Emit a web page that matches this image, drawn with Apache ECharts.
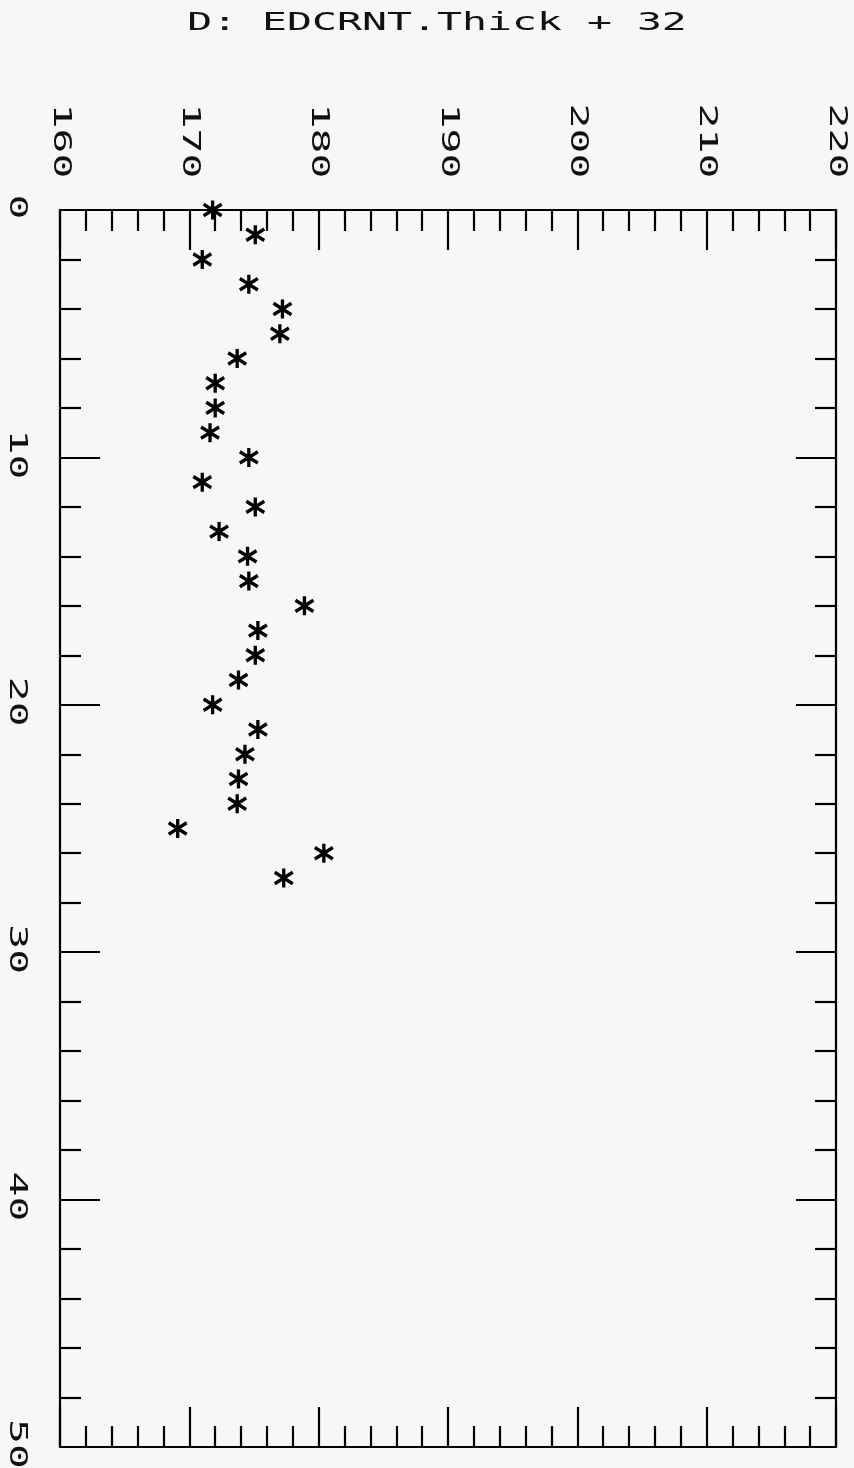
<!DOCTYPE html>
<html>
<head>
<meta charset="utf-8">
<script src="https://cdn.jsdelivr.net/npm/echarts@6/dist/echarts.min.js"></script>
<style>
  html, body { margin: 0; padding: 0; background: #f7f7f7; }
  #chart { width: 854px; height: 1468px; }
</style>
</head>
<body>
<div id="chart"></div>
<script>
// Plot title
const titleText = 'D: EDCRNT.Thick + 32';

// Sample number (runs down the page) and measured thickness (runs across)
const sampleIndex = [0, 1, 2, 3, 4, 5, 6, 7, 8, 9, 10, 11, 12, 13,
                     14, 15, 16, 17, 18, 19, 20, 21, 22, 23, 24, 25, 26, 27];
const thickness = [171.8, 175.1, 171.0, 174.6, 177.2, 177.0, 173.7, 172.0, 172.0, 171.6,
                   174.6, 171.0, 175.1, 172.3, 174.5, 174.6, 178.9, 175.3, 175.1, 173.8,
                   171.8, 175.3, 174.3, 173.8, 173.7, 169.1, 180.4, 177.3];

// Tick labels for both axes
const thicknessTicks = ['160', '170', '180', '190', '200', '210', '220'];
const sampleTicks = ['0', '10', '20', '30', '40', '50'];

const INK = '#000';
const FONT = '25px "DejaVu Sans Mono", monospace';
const STRETCH = 1.66;   // widen the monospace glyphs to a plotter-style pitch

const tMin = Number(thicknessTicks[0]);
const tMax = Number(thicknessTicks[thicknessTicks.length - 1]);
const sMin = Number(sampleTicks[0]);
const sMax = Number(sampleTicks[sampleTicks.length - 1]);

// six-armed plotter asterisk
const asterisk = 'path://M10,0 L10,20 M2,4 L18,16 M2,16 L18,4';

function textStyle(text) {
  return { text: text, font: FONT, fill: '#111', align: 'center', verticalAlign: 'middle' };
}

function frameAxis(extra) {
  return Object.assign({
    type: 'value',
    axisLine: { show: true, onZero: false, lineStyle: { color: INK, width: 2.2 } },
    axisTick: { show: true, inside: true, length: 40, lineStyle: { color: INK, width: 2.2 } },
    minorTick: { show: true, splitNumber: 5, length: 21, lineStyle: { color: INK, width: 2.2 } },
    axisLabel: { show: false },
    splitLine: { show: false },
    minorSplitLine: { show: false }
  }, extra);
}

const chart = echarts.init(document.getElementById('chart'), null, { renderer: 'canvas' });

chart.setOption({
  backgroundColor: '#f7f7f7',
  animation: false,
  grid: { left: 60, right: 18, top: 210, bottom: 21 },
  xAxis: [
    frameAxis({ position: 'bottom', min: tMin, max: tMax, interval: 10 }),
    frameAxis({ position: 'top', min: tMin, max: tMax, interval: 10 })
  ],
  yAxis: [
    frameAxis({ position: 'left', min: sMin, max: sMax, interval: 10, inverse: true }),
    frameAxis({ position: 'right', min: sMin, max: sMax, interval: 10, inverse: true })
  ],
  graphic: [{
    type: 'text',
    x: 437,
    y: 23,
    scaleX: STRETCH,
    style: textStyle(titleText)
  }],
  series: [
    {
      name: 'thickness',
      type: 'scatter',
      xAxisIndex: 0,
      yAxisIndex: 0,
      symbol: asterisk,
      symbolSize: [18, 19],
      itemStyle: { color: 'rgba(0,0,0,0)', borderColor: INK, borderWidth: 3.4, opacity: 1 },
      emphasis: { disabled: true },
      z: 5,
      data: sampleIndex.map((s, i) => [thickness[i], s])
    },
    {
      // thickness tick labels above the frame, turned a quarter clockwise
      type: 'custom',
      silent: true,
      xAxisIndex: 0,
      yAxisIndex: 0,
      data: thicknessTicks.map(t => [Number(t), sMin]),
      renderItem: function (params, api) {
        const p = api.coord([api.value(0), api.value(1)]);
        return {
          type: 'text',
          x: p[0],
          y: p[1] - 69,
          rotation: -Math.PI / 2,
          scaleX: STRETCH,
          style: textStyle(thicknessTicks[params.dataIndex])
        };
      }
    },
    {
      // sample-number tick labels left of the frame
      type: 'custom',
      silent: true,
      xAxisIndex: 0,
      yAxisIndex: 0,
      data: sampleTicks.map(s => [tMin, Number(s)]),
      renderItem: function (params, api) {
        const p = api.coord([api.value(0), api.value(1)]);
        return {
          type: 'text',
          x: p[0] - 44,
          y: p[1] - 3,
          rotation: -Math.PI / 2,
          scaleX: STRETCH,
          style: textStyle(sampleTicks[params.dataIndex])
        };
      }
    }
  ]
});
</script>
</body>
</html>
